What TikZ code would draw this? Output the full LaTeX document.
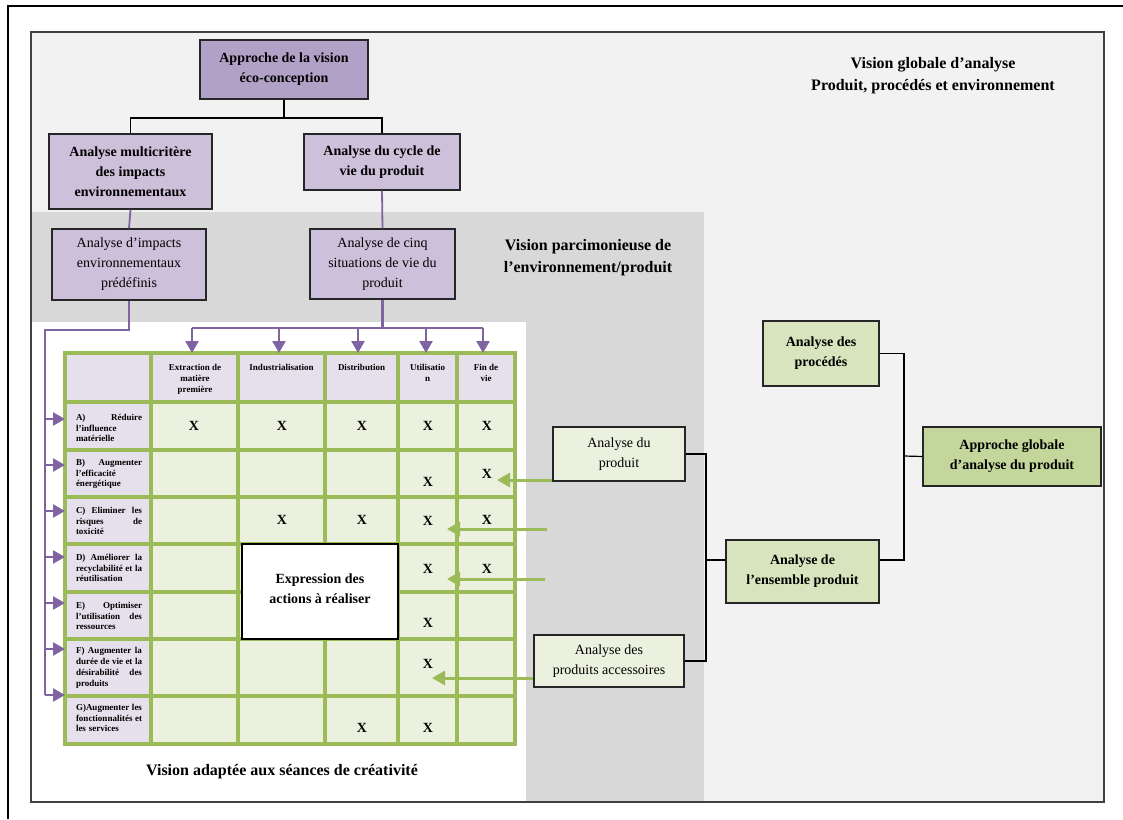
\documentclass[tikz,border=0pt]{standalone}
\usepackage{fontspec}
\setmainfont{Liberation Serif}
\usetikzlibrary{arrows.meta,calc}

\definecolor{framegray}{HTML}{404040}
\definecolor{bglight}{HTML}{F2F2F2}
\definecolor{bgmid}{HTML}{D9D8D9}
\definecolor{violetdark}{HTML}{B2A1C7}
\definecolor{violetmid}{HTML}{CCC0DA}
\definecolor{violetpale}{HTML}{E5E0EC}
\definecolor{violetline}{HTML}{8064A2}
\definecolor{greenline}{HTML}{9BBB59}
\definecolor{greenpale}{HTML}{EBF1DE}
\definecolor{greenmid}{HTML}{D7E4BD}
\definecolor{greendark}{HTML}{C3D69B}

% a justified line of a row heading: words pushed to both edges
\newcommand\jline[1]{\leavevmode\hbox to 66pt{#1}}

\begin{document}
\begin{tikzpicture}[x=1pt,y=-1pt,
  box/.style={draw=black!85, line width=1.4pt, inner sep=0pt, align=center,
    font=\fontsize{14}{20}\selectfont},
  boldbox/.style={box, font=\fontsize{14}{20}\selectfont\bfseries},
  link/.style={draw=black, line width=1.2pt},
  vlink/.style={draw=violetline, line width=2.4pt},
  varrow/.style={vlink, -{Triangle[length=12pt,width=13pt]}},
  garrow/.style={draw=greenline, line width=3pt, -{Triangle[length=13pt,width=14pt]}},
  title/.style={font=\fontsize{16}{22}\selectfont\bfseries, align=center},
  head/.style={font=\fontsize{9}{11}\selectfont\bfseries, align=center, anchor=north, inner sep=0pt},
  rowlab/.style={font=\fontsize{9}{10.8}\selectfont\bfseries, align=left, text width=66pt, inner sep=0pt},
  xmark/.style={font=\fontsize{14}{14}\selectfont\bfseries, inner sep=0pt}
]
\useasboundingbox (0,0) rectangle (1123,819);

% outer rule
\draw[line width=2.2pt] (1123,6) -- (8,6) -- (8,819);

% background zones
\fill[bglight] (31,32) rectangle (1104,802);
\fill[bgmid] (31,212) rectangle (704,802);
\fill[white] (31,322) rectangle (526,802);
\draw[framegray, line width=1.5pt] (31,32) rectangle (1104,802);

% zone titles
\node[title] (tglob) at (933,75.5) {Vision globale d’analyse\\Produit, procédés et environnement};
\node[title] (tpars) at (588,258) {Vision parcimonieuse de\\l’environnement/produit};
\node[title] (tcrea) at (282,772) {Vision adaptée aux séances de créativité};

% eco-design tree
\node[boldbox, fill=violetdark, minimum width=168pt, minimum height=59pt] (top) at (284,69.5)
  {Approche de la vision\\éco-conception};
\node[boldbox, fill=violetmid, minimum width=163pt, minimum height=75pt] (multi) at (130.5,171.5)
  {Analyse multicritère\\des impacts\\environnementaux};
\node[boldbox, fill=violetmid, minimum width=156pt, minimum height=56pt] (cycle) at (382,162)
  {Analyse du cycle de\\vie du produit};
\node[box, fill=violetmid, minimum width=154pt, minimum height=71pt] (impacts) at (129,264.5)
  {Analyse d’impacts\\environnementaux\\prédéfinis};
\node[box, fill=violetmid, minimum width=145pt, minimum height=70pt] (cinq) at (382.5,264)
  {Analyse de cinq\\situations de vie du\\produit};

\coordinate (j1) at (284,118);
\draw[link] (top.south) -- (top.south |- j1);
\draw[link] (multi.north) |- (cycle.north |- j1) -- (cycle.north);
\draw[vlink, line width=1.8pt] (multi.south) -- (impacts.north);
\draw[vlink, line width=1.8pt] (cycle.south) -- (cinq.north);

% table grid
\fill[greenline] (63,351) rectangle (517,746);
\foreach \xa/\xb [count=\c] in {65/151,151/238,238/325,325/398,398/457,457/515}{
  \foreach \ya/\yb [count=\r] in {353/402,402/450,450/497,497/544,544/592,592/639,639/696,696/744}{
    \ifnum\c=1 \def\cc{violetpale}\else\ifnum\r=1 \def\cc{violetpale}\else\def\cc{greenpale}\fi\fi
    \fill[\cc] (\xa+2,\ya+2) rectangle (\xb-2,\yb-2);
  }
}

% column heads
\node[head] (h1) at (195,364) {Extraction de\\matière\\première};
\node[head] (h2) at (281.5,364) {Industrialisation};
\node[head] (h3) at (361.5,364) {Distribution};
\node[head] (h4) at (427.5,364) {Utilisatio\\n};
\node[head] (h5) at (486,364) {Fin de\\vie};

% row heads
\node[rowlab] (ra) at (109,428) {\jline{A)\hfill Réduire}\\l’influence\\matérielle};
\node[rowlab] (rb) at (109,474) {\jline{B)\hfill Augmenter}\\l’efficacité\\énergétique};
\node[rowlab] (rc) at (109,521) {\jline{C)\hfill Eliminer\hfill les}\\\jline{risques\hfill de}\\toxicité};
\node[rowlab] (rd) at (109,568) {\jline{D)\hfill Améliorer\hfill la}\\\jline{recyclabilité\hfill et\hfill la}\\réutilisation};
\node[rowlab] (re) at (109,616) {\jline{E)\hfill Optimiser}\\\jline{l’utilisation\hfill des}\\ressources};
\node[rowlab] (rf) at (109,668) {\jline{F)\hfill Augmenter\hfill la}\\\jline{durée\hfill de\hfill vie\hfill et\hfill la}\\\jline{désirabilité\hfill des}\\produits};
\node[rowlab] (rg) at (109,718) {\jline{G)Augmenter\hfill les}\\\jline{fonctionnalités\hfill et}\\les services};

% crosses
\foreach \px/\py [count=\k] in {194/426,282/426,362/426,428/426,487/426,
    428/482,487/474,
    282/520,362/520,428/521,487/520,
    428/569,487/569,
    428/623,
    428/664,
    362/728,428/728}{
  \node[xmark] (x\k) at (\px,\py) {X};
}

% central action box
\node[draw=black, line width=1.3pt, fill=white, minimum width=156pt, minimum height=95pt,
  inner sep=0pt] (expr) at (320,591.5) {};
\node[align=center, font=\fontsize{14}{20}\selectfont\bfseries, inner sep=0pt] (exprtext)
  at (expr.center) [yshift=3pt] {Expression des\\actions à réaliser};

% violet distribution arrows
\coordinate (vbL) at (192,328);
\coordinate (vbR) at (483,328);
\draw[vlink] (cinq.south) -- (cinq.south |- vbL);
\draw[vlink] (vbL) -- (vbR);
\foreach \tx in {192,279,358,426,483}{
  \draw[varrow] (\tx,328) -- (\tx,353);
}
\coordinate (hbT) at (45,330);
\coordinate (hbB) at (45,695);
\draw[vlink] (impacts.south) |- (hbT) -- (hbB);
\foreach \ty in {419,465,511,557,603,649,695}{
  \draw[varrow] (45,\ty) -- (65,\ty);
}

% green feedback arrows
\coordinate (g1) at (558,480);
\coordinate (g2) at (547,529);
\coordinate (g3) at (545,579);
\coordinate (g4) at (534,678);
\draw[garrow] (g1) -- (497,480);
\draw[garrow] (g2) -- (447,529);
\draw[garrow] (g3) -- (447,579);
\draw[garrow] (g4) -- (432,678);

% global product analysis
\node[boldbox, fill=greenmid, minimum width=116pt, minimum height=65pt] (proc) at (821,353.5)
  {Analyse des\\procédés};
\node[boldbox, fill=greendark, minimum width=178pt, minimum height=59pt] (glob) at (1012,456.5)
  {Approche globale\\d’analyse du produit};
\node[box, fill=greenpale, minimum width=132pt, minimum height=54pt] (prod) at (619,454)
  {Analyse du\\produit};
\node[boldbox, fill=greenmid, minimum width=153pt, minimum height=63pt] (ens) at (802.5,571.5)
  {Analyse de\\l’ensemble produit};
\node[box, fill=greenpale, minimum width=150pt, minimum height=52pt] (acc) at (609,661)
  {Analyse des\\produits accessoires};

\coordinate (bx1) at (706,560);
\coordinate (bx2) at (904,456);
\draw[link] (prod.east) -| (bx1) -- (ens.west |- bx1);
\draw[link] (acc.east) -| (bx1);
\draw[link] (proc.east) -| (bx2) |- (ens.east |- bx1);
\draw[link] (glob.west) -- (bx2);

\end{tikzpicture}
\end{document}
